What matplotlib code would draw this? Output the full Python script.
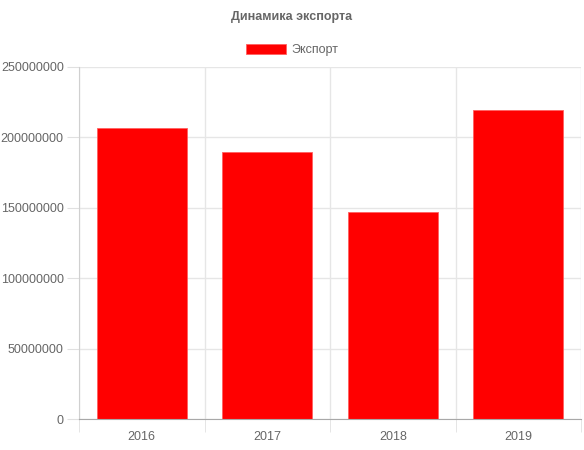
import numpy as np
import matplotlib
matplotlib.use("Agg")
import matplotlib.pyplot as plt

plt.rcParams['font.family'] = ['Liberation Sans', 'DejaVu Sans']

years = ['2016', '2017', '2018', '2019']
export = [206500000, 189500000, 147000000, 219500000]
yticks = [0, 50000000, 100000000, 150000000, 200000000, 250000000]

fig = plt.figure(figsize=(5.84, 4.5), dpi=100)
ax = fig.add_axes([79/584, 1-419/450, 502/584, 352/450])

x = np.arange(len(years))
ax.bar(x, export, width=0.72, color='#ff0000', edgecolor='#ff6060', linewidth=0.6,
       label='Экспорт', zorder=3)

ax.set_xlim(-0.5, len(years) - 0.5)
ax.set_ylim(0, 250000000)
ax.set_yticks(yticks)
ax.set_yticklabels([str(v) for v in yticks])
ax.set_xticks(x)
ax.set_xticklabels(years)
ax.set_xticks(np.arange(len(years) + 1) - 0.5, minor=True)

ax.tick_params(axis='y', length=9, color='#e0e0e0', labelcolor='#666666', labelsize=9, pad=2)
ax.tick_params(axis='x', which='major', length=0, labelcolor='#666666', labelsize=9, pad=9)
ax.tick_params(axis='x', which='minor', length=9, color='#e0e0e0')

ax.grid(True, axis='y', color='#e6e6e6', linewidth=1, zorder=0)
ax.grid(True, axis='x', which='minor', color='#e6e6e6', linewidth=1, zorder=0)

for s in ['top', 'right']:
    ax.spines[s].set_visible(False)
ax.spines['left'].set_color('#d0d0d0')
ax.spines['bottom'].set_color('#a8a8a8')
ax.spines['bottom'].set_zorder(4)

fig.text(0.5, 1-17/450, 'Динамика экспорта', ha='center', va='center',
         fontsize=9, fontweight='bold', color='#666666')
ax.legend(loc='center', bbox_to_anchor=(0.5, 1-50/450), bbox_transform=fig.transFigure,
          frameon=False, fontsize=9, labelcolor='#666666', handlelength=3.2,
          handleheight=0.95, handletextpad=0.4)

fig.savefig('out.png', dpi=100)
